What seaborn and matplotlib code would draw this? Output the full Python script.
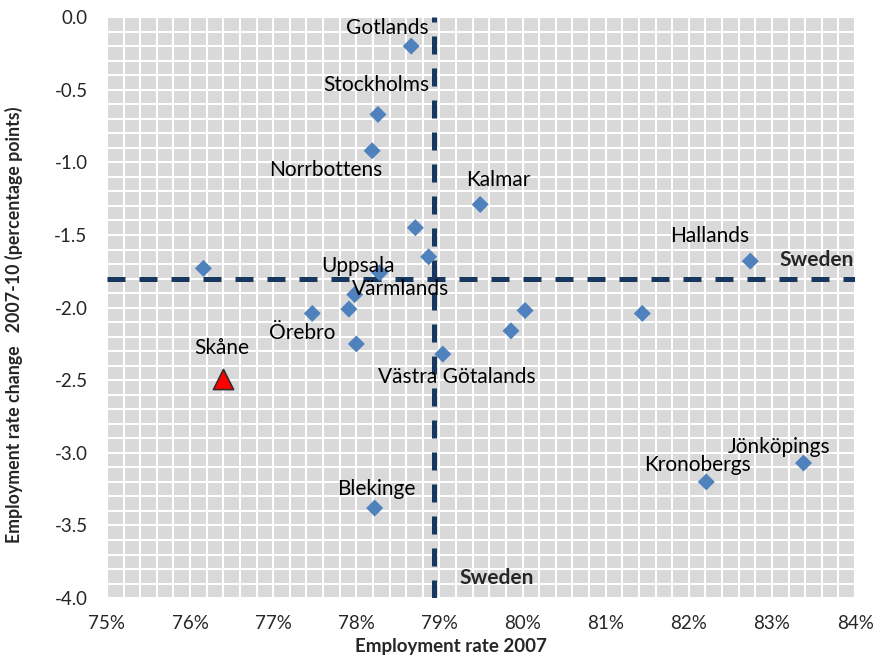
import pandas as pd
import numpy as np
import matplotlib
matplotlib.use("Agg")
import matplotlib.pyplot as plt
import seaborn as sns
from matplotlib.ticker import MultipleLocator, FuncFormatter

# County data: employment rate 2007 (%) and change 2007-10 (percentage points)
counties = ["Gotlands", "Stockholms", "Norrbottens", "Kalmar", "", "", "",
            "Uppsala", "Värmlands", "", "Örebro", "", "Västra Götalands",
            "", "", "", "Hallands", "Kronobergs", "Jönköpings", "Blekinge"]
emp_2007 = [78.66, 78.26, 78.19, 79.49, 78.71, 78.87, 76.16,
            78.28, 77.98, 77.91, 77.47, 78.00, 79.04,
            80.03, 79.86, 81.44, 82.74, 82.21, 83.38, 78.22]
emp_change = [-0.20, -0.67, -0.92, -1.29, -1.45, -1.65, -1.73,
              -1.76, -1.91, -2.01, -2.04, -2.25, -2.32,
              -2.02, -2.16, -2.04, -1.68, -3.20, -3.07, -3.38]

highlight = "Skåne"
highlight_x = [76.40]
highlight_y = [-2.49]

sweden_x = 78.93
sweden_y = -1.80

# label offsets in pixels (dx, dy) relative to each point
label_offsets = {
    "Gotlands": (-24, 18), "Stockholms": (-2, 29), "Norrbottens": (-46, -19),
    "Kalmar": (18, 24), "Hallands": (-41, 25), "Uppsala": (-22, 7),
    "Värmlands": (46, 6), "Örebro": (-10, -20), "Västra Götalands": (14, -23),
    "Jönköpings": (-24, 16), "Kronobergs": (-9, 17), "Blekinge": (2, 19),
    "Skåne": (-2, 31),
}

df = pd.DataFrame({"county": counties, "x": emp_2007, "y": emp_change})

sns.set_theme(style="darkgrid", rc={
    "axes.facecolor": "#D9D9D9",
    "grid.color": "white",
    "grid.linewidth": 1.5,
})
plt.rcParams["font.family"] = ["Lato", "DejaVu Sans"]

fig = plt.figure(figsize=(8.77, 6.58), dpi=100)
ax = fig.add_axes([0.122, 0.091, 0.853, 0.883])

navy = "#17375E"
ax.axvline(sweden_x, color=navy, lw=3.6, dashes=(3.6, 2.8), zorder=2)
ax.axhline(sweden_y, color=navy, lw=3.6, dashes=(3.6, 2.8), zorder=2)

sns.scatterplot(data=df, x="x", y="y", marker="D", s=75, color="#4F81BD",
                edgecolor="none", ax=ax, zorder=3)
sns.scatterplot(x=highlight_x, y=highlight_y, marker="^", s=210, color="#FF0000",
                edgecolor="#3a2a2a", linewidth=1.2, ax=ax, zorder=4)

for name, x, y in zip(counties + [highlight], emp_2007 + highlight_x, emp_change + highlight_y):
    if not name:
        continue
    dx, dy = label_offsets[name]
    ax.annotate(name, (x, y), xytext=(dx, dy), textcoords="offset pixels",
                ha="center", va="center", fontsize=15, color="black", zorder=5)

ax.text(83.54, -1.67, "Sweden", fontsize=15, fontweight="bold", ha="center", va="center")
ax.text(79.69, -3.86, "Sweden", fontsize=15, fontweight="bold", ha="center", va="center")

ax.set_xlim(75, 84)
ax.set_ylim(-4.0, 0.0)
ax.xaxis.set_major_locator(MultipleLocator(1))
ax.xaxis.set_minor_locator(MultipleLocator(0.2))
ax.yaxis.set_major_locator(MultipleLocator(0.5))
ax.yaxis.set_minor_locator(MultipleLocator(0.1))
ax.xaxis.set_major_formatter(FuncFormatter(lambda v, p: f"{v:.0f}%"))
ax.yaxis.set_major_formatter(FuncFormatter(lambda v, p: f"{v:.1f}"))
ax.grid(which="both", color="white", linewidth=1.5)
ax.tick_params(axis="both", which="both", length=0, labelsize=13.5, pad=12)
ax.tick_params(axis="y", pad=14)
for s in ax.spines.values():
    s.set_visible(False)

ax.set_xlabel("Employment rate 2007", fontsize=13.5, fontweight="bold", labelpad=0)
ax.xaxis.set_label_coords(0.46, -0.068)
ax.set_ylabel("Employment rate change   2007-10 (percentage points)", fontsize=12.8,
              fontweight="bold")
ax.yaxis.set_label_coords(-0.112, 0.47)

fig.savefig("out.png", dpi=100)
